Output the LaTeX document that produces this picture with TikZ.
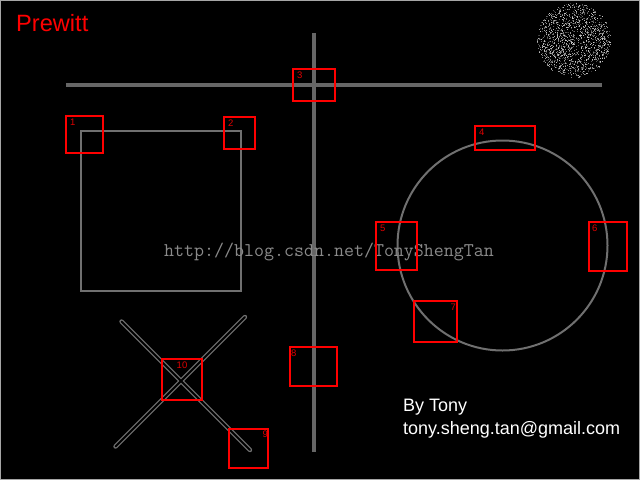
\documentclass[tikz,border=0pt]{standalone}
\usepackage{fontspec}
\setmainfont{Liberation Sans}
\newfontfamily\wmfont{Latin Modern Mono}
\begin{document}
\begin{tikzpicture}[x=1pt,y=-1pt,
  bar/.style={draw=graybar,line width=4pt},
  gshape/.style={draw=grayshape,line width=2pt},
  redbox/.style={draw=redc,line width=1.1pt},
  boxlbl/.style={text=redl,font=\fontsize{9.5}{9.5}\selectfont,inner sep=0pt},
  xouter/.style={draw=grayshape,line width=4.4pt,line cap=round},
  xinner/.style={draw=black,line width=2pt,line cap=round}]
\definecolor{graybar}{HTML}{666666}
\definecolor{grayshape}{HTML}{707070}
\definecolor{redc}{HTML}{FF0000}
\definecolor{redl}{HTML}{E00000}
\definecolor{wm}{HTML}{8A8A8A}
% background and border
\fill[black] (0,0) rectangle (640,480);
\useasboundingbox (0,0) rectangle (640,480);
\draw[draw=gray!70,line width=1pt] (0.5,0.5) rectangle (639.5,479.5);
% title
\node[anchor=base west,text=redc,font=\fontsize{23.6}{24}\selectfont,inner sep=0pt] (title) at (16,31) {Prewitt};
% noise disc
\pgfmathsetseed{7}
\foreach \i in {1,...,1500}{
  \pgfmathsetmacro{\rr}{37*sqrt(rnd)}
  \pgfmathsetmacro{\ang}{360*rnd}
  \pgfmathsetmacro{\gg}{20+60*rnd}
  \fill[white!\gg!black] ({573.5+\rr*cos(\ang)},{40+\rr*sin(\ang)}) rectangle ++(1,1);
}
% bars
\coordinate (hl) at (66,85);
\coordinate (hr) at (602,85);
\coordinate (vt) at (314,33);
\coordinate (vb) at (314,452);
\draw[bar] (hl) -- (hr);
\draw[bar] (vt) -- (vb);
% square
\draw[gshape] (81,131) rectangle (241,291);
% circle
\coordinate (cc) at (502.5,245.5);
\draw[gshape] (cc) circle[radius=105];
% X shape
\coordinate (xa1) at (121.5,321.5);
\coordinate (xa2) at (250,450);
\coordinate (xb1) at (245,317);
\coordinate (xb2) at (115.5,446.5);
\draw[xouter] (xa1) -- (xa2);
\draw[xouter] (xb1) -- (xb2);
\draw[xinner] (xa1) -- (xa2);
\draw[xinner] (xb1) -- (xb2);
% watermark
\node[anchor=base west,text=wm,font=\wmfont\fontsize{19.4}{19}\selectfont,inner sep=0pt] (wmark) at (164,256) {http://blog.csdn.net/TonyShengTan};
% red boxes
\draw[redbox] (66,116) rectangle (103,153);
\node[boxlbl,anchor=north west] (l1) at (70,119) {1};
\draw[redbox] (224,117) rectangle (255,149);
\node[boxlbl,anchor=north west] (l2) at (228,120) {2};
\draw[redbox] (293,69) rectangle (335,101);
\node[boxlbl,anchor=north west] (l3) at (297,72) {3};
\draw[redbox] (475,126) rectangle (535,150);
\node[boxlbl,anchor=north west] (l4) at (479,129) {4};
\draw[redbox] (376,222) rectangle (417,270);
\node[boxlbl,anchor=north west] (l5) at (380,225) {5};
\draw[redbox] (589,222) rectangle (627,271);
\node[boxlbl,anchor=north west] (l6) at (592,225) {6};
\draw[redbox] (414,301) rectangle (457,342);
\node[boxlbl,anchor=north east] (l7) at (456,304) {7};
\draw[redbox] (290,347) rectangle (337,386);
\node[boxlbl,anchor=north west] (l8) at (291,350) {8};
\draw[redbox] (229,429) rectangle (268,468);
\node[boxlbl,anchor=north east] (l9) at (268,431) {9};
\draw[redbox] (162,359) rectangle (202,400);
\node[boxlbl,anchor=north] (l10) at (182,362) {10};
% author
\node[anchor=base west,text=white,font=\fontsize{18}{18}\selectfont,inner sep=0pt] (by) at (403,411) {By Tony};
\node[anchor=base west,text=white,font=\fontsize{18}{18}\selectfont,inner sep=0pt] (mail) at (403,434) {tony.sheng.tan@gmail.com};
\end{tikzpicture}
\end{document}
